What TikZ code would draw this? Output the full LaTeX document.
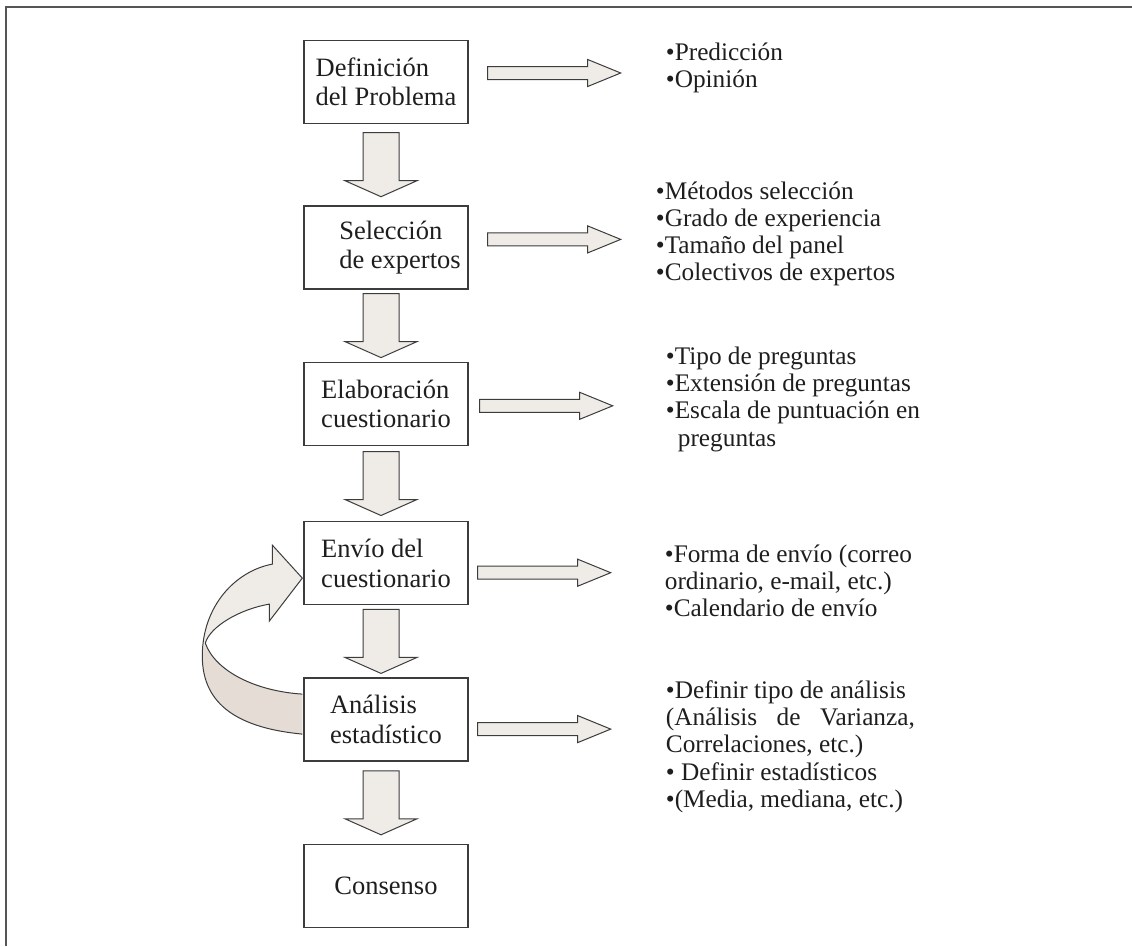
\documentclass[tikz,border=0pt]{standalone}
\usepackage{fontspec}
\setmainfont{Liberation Serif}
\usepackage{tikz}
\usetikzlibrary{positioning,calc}
\definecolor{flowInk}{HTML}{1E1E1E}
\definecolor{flowLine}{HTML}{3C3C3C}
\definecolor{flowFill}{HTML}{EFEBE7}
\definecolor{flowShade}{HTML}{E4DCD5}
\definecolor{flowFrame}{HTML}{555555}
\newcommand{\flowdown}[2]{%
  \draw[blockarr] ($(#1.south)!.5!(#2.north)+(-23pt,32pt)$) -- ++(36pt,0) -- ++(0,-48pt) -- ++(18pt,0) -- ++(-36pt,-16pt) -- ++(-36pt,16pt) -- ++(18pt,0) -- cycle;}
\newcommand{\flowright}[3]{%
  \draw[blockarr] ($(#1.east)+(#2,#3+6.5pt)$) -- ++(100pt,0) -- ++(0,7pt) -- ++(33pt,-13.5pt) -- ++(-33pt,-13.5pt) -- ++(0,7pt) -- ++(-100pt,0) -- cycle;}

\begin{document}
\begin{tikzpicture}[
  x=1pt,y=1pt,
  font=\fontsize{26.5}{29.5}\selectfont,
  stepbox/.style={draw=flowLine,line width=1.4pt,minimum width=164pt,minimum height=83pt,align=left,text=flowInk,inner sep=0pt},
  items/.style={align=left,text=flowInk,inner sep=0pt,font=\fontsize{25.3}{27.2}\selectfont},
  blockarr/.style={draw=flowLine,line width=1pt,fill=flowFill,line join=miter}
]
  \useasboundingbox (0,0) rectangle (1132,-946);
  \draw[flowFrame,line width=2pt] (6,-946) -- (6,-7) -- (1132,-7);

  \node[stepbox] (step1) at (386,-82) {Definición\\del Problema};
  \node[stepbox,below=81pt of step1] (step2) {\hspace*{28pt}Selección\\\hspace*{28pt}de expertos};
  \node[stepbox,below=72pt of step2] (step3) {Elaboración\\cuestionario};
  \node[stepbox,below=75pt of step3] (step4) {Envío del\\cuestionario};
  \node[stepbox,below=72pt of step4] (step5) {Análisis\\estadístico};
  \node[stepbox,below=82pt of step5] (step6) {Consenso};

  \node[items,right=197pt of step1,yshift=14.5pt] (pred) {•Predicción\\•Opinión};
  \node[items,right=187pt of step2,yshift=13.5pt] (panel) {•Métodos selección\\•Grado de experiencia\\•Tamaño del panel\\•Colectivos de expertos};
  \node[items,right=197pt of step3,yshift=4.5pt] (quest) {•Tipo de preguntas\\•Extensión de preguntas\\•Escala de puntuación en\\\hspace*{12pt}preguntas};
  \node[items,right=196pt of step4,yshift=-17.5pt] (envio) {•Forma de envío (correo\\ordinario, e-mail, etc.)\\•Calendario de envío};
  \node[items,right=197pt of step5,yshift=-27pt] (stats) {•Definir tipo de análisis\\\makebox[249pt][s]{(Análisis de Varianza,}\\Correlaciones, etc.)\\• Definir estadísticos\\•(Media, mediana, etc.)};

  \flowdown{step1}{step2}
  \flowdown{step2}{step3}
  \flowdown{step3}{step4}
  \flowdown{step4}{step5}
  \flowdown{step5}{step6}

  \flowright{step1}{19pt}{9pt}
  \flowright{step2}{19pt}{8pt}
  \flowright{step3}{11pt}{-2pt}
  \flowright{step4}{9pt}{-9.5pt}
  \flowright{step5}{9pt}{-9.5pt}

  \begin{scope}[shift={(step5.west)}]
    \fill[flowFill] (-1,-14.5) .. controls (-63,-8.5) and (-101,13.5) .. (-101,63.5) .. controls (-101,113.5) and (-68,148.5) .. (-31,155.5) -- (-31,174.5) -- (-1,141.5) -- (-34,98.5) -- (-34,115.5) .. controls (-63,110.5) and (-93,93.5) .. (-98,76.5) .. controls (-88,48.5) and (-48,28.5) .. (-1,25.5) -- cycle;
    \fill[flowShade] (-98,76.5) .. controls (-88,48.5) and (-48,28.5) .. (-1,25.5) -- (-1,-14.5) .. controls (-63,-8.5) and (-101,13.5) .. (-101,63.5) -- cycle;
    \draw[flowLine,line width=1pt,line join=miter] (-1,-14.5) .. controls (-63,-8.5) and (-101,13.5) .. (-101,63.5) .. controls (-101,113.5) and (-68,148.5) .. (-31,155.5) -- (-31,174.5) -- (-1,141.5) -- (-34,98.5) -- (-34,115.5) .. controls (-63,110.5) and (-93,93.5) .. (-98,76.5) .. controls (-88,48.5) and (-48,28.5) .. (-1,25.5);
  \end{scope}
\end{tikzpicture}
\end{document}
